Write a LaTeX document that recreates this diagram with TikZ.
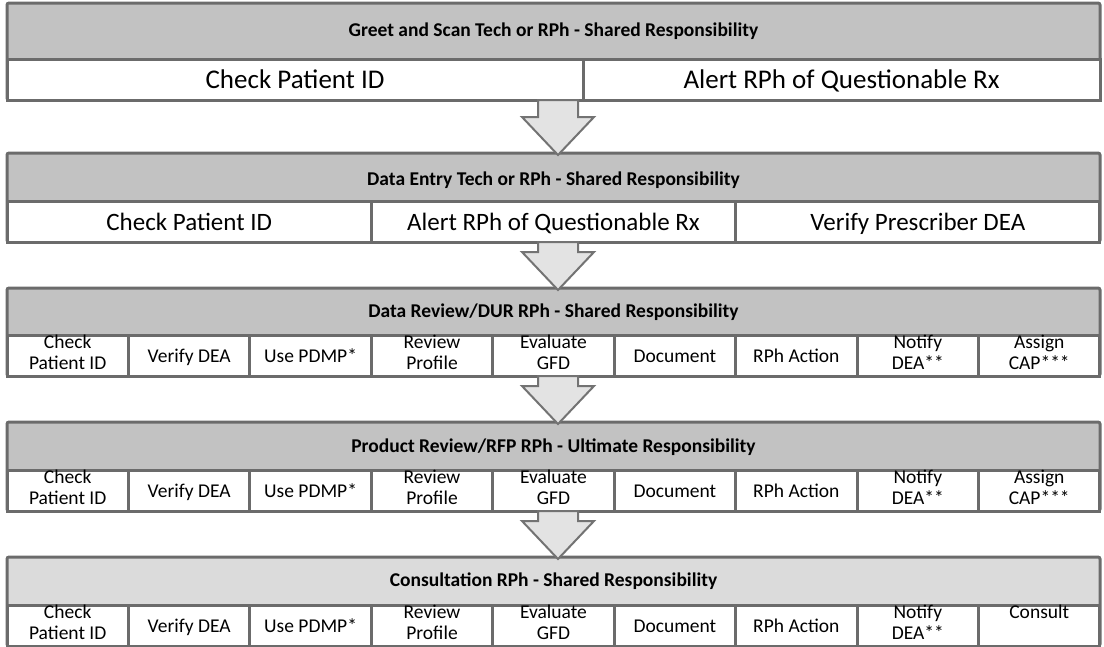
\documentclass[tikz,border=0pt]{standalone}
\usepackage{fontspec}
\setmainfont{Carlito}
\usetikzlibrary{calc}

\tikzset{
  stage/.style={draw=black!58, line width=3pt, fill=black!24, rounded corners=2pt,
    minimum width=1093pt, inner sep=0, outer sep=0},
  stagelight/.style={stage, fill=black!14},
  headtext/.style={font=\fontsize{19.5}{22}\selectfont\bfseries, inner sep=0},
  cell/.style={draw=black!58, line width=3pt, fill=white, minimum height=41pt,
    inner sep=0, outer sep=0, align=center, anchor=south west,
    font=\fontsize{19.5}{20.5}\selectfont,
    execute at begin node={\rule{0pt}{1em}}, execute at end node=\strut},
  bigcell/.style={cell, font=\fontsize{27}{28}\selectfont},
  midcell/.style={cell, font=\fontsize{25}{26}\selectfont},
  blockarrow/.style={draw=black!55, line width=2pt, fill=black!11, line join=miter},
}

\begin{document}
\begin{tikzpicture}[x=1pt, y=-1pt]
\useasboundingbox (0,0) rectangle (1104,646);

% greet and scan
\node[stage, minimum height=97pt, anchor=north] (st1) at (553.5,3) {};
\node[headtext] (head1) at ($(st1.north)+(0,28)$) {Greet and Scan Tech or RPh - Shared Responsibility};
\node[bigcell, minimum width=576pt] (chk1) at (st1.south west) {Check Patient ID};
\node[bigcell, minimum width=517pt] (alert1) at (chk1.south east) {Alert RPh of Questionable Rx};

% data entry
\node[stage, minimum height=89pt, anchor=north] (st2) at (553.5,153) {};
\node[headtext] (head2) at ($(st2.north)+(0,27)$) {Data Entry Tech or RPh - Shared Responsibility};
\foreach \t [count=\i] in {Check Patient ID, Alert RPh of Questionable Rx, Verify Prescriber DEA}
  \node[midcell, minimum width=364.33pt] (st2c\i) at ($(st2.south west)+({(\i-1)*364.33},0)$) {\t};

% data review
\node[stage, minimum height=88pt, anchor=north] (st3) at (553.5,288) {};
\node[headtext] (head3) at ($(st3.north)+(0,24)$) {Data Review/DUR RPh - Shared Responsibility};
\foreach \t [count=\i] in {{Check\\Patient ID}, Verify DEA, Use PDMP*, {Review\\Profile}, {Evaluate\\GFD},
    Document, RPh Action, {Notify\\DEA**}, {Assign\\CAP***}}
  \node[cell, minimum width=121.44pt] (st3c\i) at ($(st3.south west)+({(\i-1)*121.44},0)$) {\t};

% product review
\node[stage, minimum height=89pt, anchor=north] (st4) at (553.5,422) {};
\node[headtext] (head4) at ($(st4.north)+(0,25)$) {Product Review/RFP RPh - Ultimate Responsibility};
\foreach \t [count=\i] in {{Check\\Patient ID}, Verify DEA, Use PDMP*, {Review\\Profile}, {Evaluate\\GFD},
    Document, RPh Action, {Notify\\DEA**}, {Assign\\CAP***}}
  \node[cell, minimum width=121.44pt] (st4c\i) at ($(st4.south west)+({(\i-1)*121.44},0)$) {\t};

% consultation
\node[stagelight, minimum height=89pt, anchor=north] (st5) at (553.5,557) {};
\node[headtext] (head5) at ($(st5.north)+(0,24)$) {Consultation RPh - Shared Responsibility};
\foreach \t [count=\i] in {{Check\\Patient ID}, Verify DEA, Use PDMP*, {Review\\Profile}, {Evaluate\\GFD},
    Document, RPh Action, {Notify\\DEA**}, {Consult\\\mbox{}}}
  \node[cell, minimum width=121.44pt] (st5c\i) at ($(st5.south west)+({(\i-1)*121.44},0)$) {\t};

% arrows between the stages
\foreach \a/\b in {st1/st2, st2/st3, st3/st4, st4/st5}
  \draw[blockarrow] ($(\a.south)+(-15.5,0)$) -- ($(\a.south)+(24.5,0)$)
    -- ($(\b.north)+(24.5,-36)$) -- ($(\b.north)+(40.5,-36)$) -- ($(\b.north)+(4.5,2)$)
    -- ($(\b.north)+(-31.5,-36)$) -- ($(\b.north)+(-15.5,-36)$) -- cycle;
\end{tikzpicture}
\end{document}
